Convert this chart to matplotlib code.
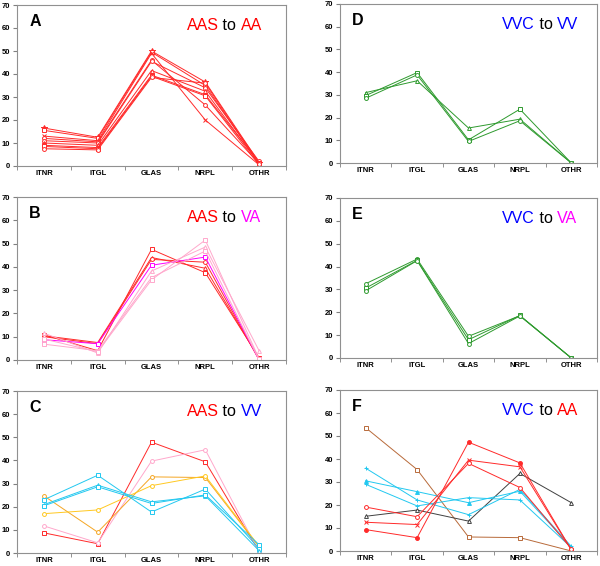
import numpy as np
import matplotlib
matplotlib.use('Agg')
import matplotlib.pyplot as plt

plt.rcParams['font.family'] = ['Liberation Sans', 'DejaVu Sans']

cats = ['ITNR', 'ITGL', 'GLAS', 'NRPL', 'OTHR']

RED = '#ff2a2a'
PINK = '#ffa8cc'
MAG = '#ff00ff'
CYAN = '#22c8f0'
ORANGE = '#f5a623'
YELLOW = '#ffc820'
GREEN = '#2e9a2e'
BROWN = '#b86a3a'
GREY = '#404040'

# panel A: AAS to AA
A_vals = [
    [16.5, 12.5, 50.0, 36.5, 1.5],
    [15.5, 12.0, 49.5, 35.0, 1.0],
    [13.0, 11.0, 49.0, 20.0, 0.5],
    [12.0, 10.5, 46.0, 26.5, 1.0],
    [11.0, 10.0, 45.5, 34.0, 2.0],
    [10.0, 9.0, 41.5, 32.5, 1.0],
    [9.0, 8.0, 39.5, 31.0, 1.5],
    [8.5, 7.5, 39.0, 30.5, 0.5],
    [7.5, 7.0, 38.5, 36.0, 1.0],
]
A_marks = ['*', 's', 'x', 'o', 'o', '^', 's', 's', 'o']
A_cols = [RED] * 9

# panel B: AAS to VA
B_vals = [
    [10.8, 4.0, 47.5, 37.5, 1.0],
    [10.4, 7.5, 44.0, 39.4, 0.5],
    [10.0, 7.0, 43.2, 42.0, 0.0],
    [8.7, 7.0, 40.7, 44.2, 0.0],
    [11.5, 3.0, 38.2, 48.5, 4.0],
    [6.8, 4.0, 35.4, 46.8, 0.0],
    [9.0, 3.5, 34.4, 51.5, 0.5],
]
B_marks = ['s', '^', 'o', 's', '^', 's', 's']
B_cols = [RED, RED, RED, MAG, PINK, PINK, PINK]

# panel C: AAS to VV
C_vals = [
    [8.7, 4.0, 47.9, 39.4, 0.7],
    [11.7, 4.4, 39.7, 44.6, 0.4],
    [24.7, 9.0, 32.9, 32.6, 2.6],
    [17.0, 18.6, 29.1, 33.3, 2.9],
    [23.0, 33.6, 17.7, 27.6, 1.9],
    [20.9, 29.3, 22.1, 24.7, 1.0],
    [20.4, 28.6, 21.4, 25.1, 3.6],
]
C_marks = ['s', 'o', 'o', 'o', 's', '^', 's']
C_cols = [RED, PINK, ORANGE, YELLOW, CYAN, CYAN, CYAN]

# panel D: VVC to VV
D_vals = [
    [31.0, 36.2, 15.4, 19.3, 0.0],
    [29.7, 39.8, 10.2, 23.7, 0.0],
    [28.5, 38.8, 9.5, 18.6, 0.0],
]
D_marks = ['^', 's', 'o']
D_cols = [GREEN] * 3

# panel E: VVC to VA
E_vals = [
    [32.5, 43.3, 9.5, 18.5, 0.0],
    [30.6, 42.7, 8.0, 18.6, 0.0],
    [29.4, 42.6, 6.3, 18.4, 0.0],
]
E_marks = ['o', 's', 'o']
E_cols = [GREEN] * 3

# panel F: VVC to AA
F_vals = [
    [53.6, 35.4, 6.1, 5.8, 0.0],
    [15.1, 17.8, 13.0, 33.7, 21.0],
    [36.0, 22.2, 15.8, 26.8, 2.0],
    [30.5, 25.8, 21.0, 26.0, 1.7],
    [29.0, 19.6, 23.2, 22.2, 1.5],
    [9.3, 5.8, 47.3, 38.3, 0.5],
    [12.5, 11.5, 39.5, 36.6, 0.5],
    [19.1, 14.9, 38.1, 27.6, 1.0],
]
F_marks = ['s', '^', '+', '^', '+', 'o', 'x', 'o']
F_cols = [BROWN, GREY, CYAN, CYAN, CYAN, RED, RED, RED]
F_open = [True, True, False, False, False, False, False, True]

# titles as (text, colour) pieces
A_title = [('AAS', 'red'), (' to ', 'black'), ('AA', 'red')]
B_title = [('AAS', 'red'), (' to ', 'black'), ('VA', MAG)]
C_title = [('AAS', 'red'), (' to ', 'black'), ('VV', 'blue')]
D_title = [('VVC', 'blue'), (' to ', 'black'), ('VV', 'blue')]
E_title = [('VVC', 'blue'), (' to ', 'black'), ('VA', MAG)]
F_title = [('VVC', 'blue'), (' to ', 'black'), ('AA', 'red')]


W, H = 600, 566
fig = plt.figure(figsize=(W / 100, H / 100), dpi=100)


def make_ax(x0, x1, ytop, ybot):
    return fig.add_axes([x0 / W, 1 - ybot / H, (x1 - x0) / W, (ybot - ytop) / H])


def draw_panel(ax, vals, marks, cols, letter, title, open_marks=None):
    x = np.arange(len(cats))
    for i, v in enumerate(vals):
        m = marks[i]
        hollow = m in ('o', 's', '^') if open_marks is None else open_marks[i]
        face = 'white' if hollow else cols[i]
        ax.plot(x, v, color=cols[i], lw=0.7, marker=m, ms=2.8 if m != '*' else 4,
                mfc=face, mec=cols[i], mew=0.7)

    ax.set_xlim(-0.5, 4.5)
    ax.set_ylim(0, 70)
    ax.set_yticks(np.arange(0, 71, 10))
    ax.set_xticks(x)
    ax.set_xticklabels(cats, fontsize=5.5, fontweight='bold')
    ax.set_xticks(np.arange(-0.5, 4.6, 1), minor=True)
    ax.tick_params(axis='x', which='major', length=0, pad=3)
    ax.tick_params(axis='x', which='minor', length=3, direction='out', color='#808080')
    ax.tick_params(axis='y', length=3, direction='out', color='#808080',
                   labelsize=5.5, pad=2)
    for lab in ax.get_yticklabels():
        lab.set_fontweight('bold')
    for s in ax.spines.values():
        s.set_color('#909090')
        s.set_linewidth(0.8)

    ax.text(0.045, 0.87, letter, transform=ax.transAxes, fontsize=11.5,
            fontweight='bold', va='baseline')

    # multicolour title
    t = ax.text(0.63, 0.845, title[0][0], transform=ax.transAxes, fontsize=11.5,
                color=title[0][1], va='baseline')
    for txt, c in title[1:]:
        t = ax.annotate(txt, xycoords=t, xy=(1, 0), fontsize=11.5, color=c,
                        va='bottom')


# left column
axA = make_ax(17, 286, 5, 166)
axB = make_ax(17, 286, 197, 360)
axC = make_ax(17, 286, 391, 553)
# right column
axD = make_ax(340, 597, 4, 163)
axE = make_ax(340, 597, 198, 358)
axF = make_ax(340, 597, 390, 551)

draw_panel(axA, A_vals, A_marks, A_cols, 'A', A_title)
draw_panel(axB, B_vals, B_marks, B_cols, 'B', B_title)
draw_panel(axC, C_vals, C_marks, C_cols, 'C', C_title)
draw_panel(axD, D_vals, D_marks, D_cols, 'D', D_title)
draw_panel(axE, E_vals, E_marks, E_cols, 'E', E_title)
draw_panel(axF, F_vals, F_marks, F_cols, 'F', F_title, open_marks=F_open)

fig.savefig('out.png', dpi=100)
